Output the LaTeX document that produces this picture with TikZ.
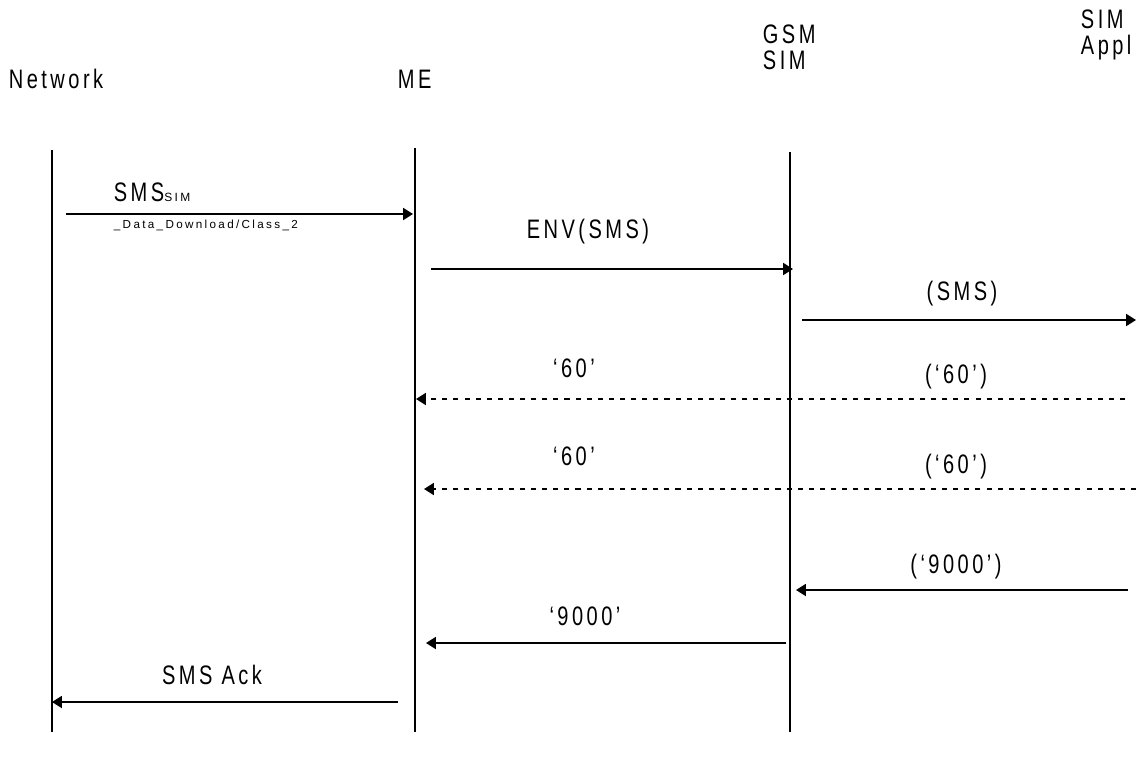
\documentclass[tikz,border=0pt]{standalone}
\usepackage{fontspec}
\setmainfont{Liberation Sans}[FakeStretch=0.75,LetterSpace=13]
\newfontfamily\smallfont{Liberation Sans}[LetterSpace=20]
\usetikzlibrary{arrows.meta,positioning}

\begin{document}
\begin{tikzpicture}[
    x=0.025cm, y=-0.025cm, line width=1.3pt, >={Triangle[length=7pt,width=8.5pt]},
    every node/.style={font=\fontsize{19}{17.8}\selectfont, inner sep=0pt},
    actor/.style={anchor=base west, align=left},
    lbl/.style={anchor=base},
    lifeline/.style={line width=1.4pt},
    msg/.style={->},
    reply/.style={->, dash pattern=on 3.6pt off 4.3pt}
]
    \useasboundingbox (0,0) rectangle (1136,758);

    % heads
    \node[actor] (NET) at (8,88) {Network};
    \node[actor] (ME) at (397,88) {ME};
    \node[actor] (GSM) at (762,69) {GSM\\SIM};
    \node[actor] (APPL) at (1080,54) {SIM\\Appl};

    % lifelines
    \coordinate (NETtop) at (52,150);  \coordinate (NETbot) at (52,732);
    \coordinate (MEtop) at (415,148);  \coordinate (MEbot) at (415,732);
    \coordinate (GSMtop) at (790,152); \coordinate (GSMbot) at (790,732);
    \draw[lifeline] (NETtop) -- (NETbot);
    \draw[lifeline] (MEtop) -- (MEbot);
    \draw[lifeline] (GSMtop) -- (GSMbot);

    % message end points
    \coordinate (sms1) at (66,214);   \coordinate (sms2) at (413,214);
    \coordinate (env1) at (431,269);  \coordinate (env2) at (793,269);
    \coordinate (app1) at (802,320);  \coordinate (app2) at (1136,320);
    \coordinate (pa1) at (1125,399);  \coordinate (pa2) at (416,399);
    \coordinate (pb1) at (1136,489);  \coordinate (pb2) at (424,489);
    \coordinate (sw1) at (1128,590);  \coordinate (sw2) at (796,590);
    \coordinate (sw3) at (786,643);   \coordinate (sw4) at (426,643);
    \coordinate (ack1) at (398,702);  \coordinate (ack2) at (52,702);

    \draw[msg] (sms1) -- (sms2);
    \draw[msg] (env1) -- (env2);
    \draw[msg] (app1) -- (app2);
    \draw[reply] (pa1) -- (pa2);
    \draw[reply] (pb1) -- (pb2);
    \draw[msg] (sw1) -- (sw2);
    \draw[msg] (sw3) -- (sw4);
    \draw[msg] (ack1) -- (ack2);

    % labels
    \node[anchor=base west] (SMSL) at (113,201) {SMS{\smallfont\fontsize{8.5}{10}\selectfont SIM}};
    \node[anchor=base west, font=\smallfont\fontsize{8.3}{10}\selectfont] (DDL) at (113,228) {\_Data\_Download/Class\_2};
    \node[lbl] (ENVL) at (588,238) {ENV(SMS)};
    \node[lbl] (APPL1) at (962,300) {(SMS)};
    \node[lbl] (PA1) at (574,377) {‘60’};
    \node[lbl] (PA2) at (956,383) {(‘60’)};
    \node[lbl] (PB1) at (574,465) {‘60’};
    \node[lbl] (PB2) at (956,473) {(‘60’)};
    \node[lbl] (SW1) at (956,573) {(‘9000’)};
    \node[lbl] (SW2) at (585,625) {‘9000’};
    \node[lbl] (ACKL) at (212,684) {SMS Ack};
\end{tikzpicture}
\end{document}
